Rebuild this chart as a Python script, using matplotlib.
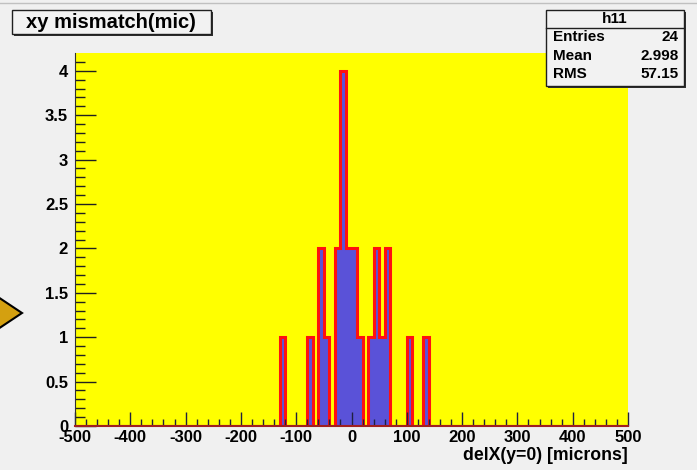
import numpy as np
import matplotlib
matplotlib.use("Agg")
import matplotlib.pyplot as plt
from matplotlib.patches import Rectangle, Polygon
from matplotlib.lines import Line2D

# ---- data ----
x_min, x_max, n_bins = -500, 500, 100
bin_centers = [-125, -75, -55, -45, -25, -15, -5, 5, 15, 35, 45, 55, 65, 105, 135]
bin_counts = [1, 1, 2, 1, 2, 4, 2, 2, 1, 1, 2, 1, 2, 1, 1]
title = "xy mismatch(mic)"
xlabel = "delX(y=0) [microns]"
stats_name = "h11"
stats_labels = ["Entries", "Mean", "RMS"]
stats_values = ["24", "2.998", "57.15"]
x_ticks = [-500, -400, -300, -200, -100, 0, 100, 200, 300, 400, 500]
y_ticks = [0, 0.5, 1, 1.5, 2, 2.5, 3, 3.5, 4]
y_tick_labels = ["0", "0.5", "1", "1.5", "2", "2.5", "3", "3.5", "4"]

edges = np.linspace(x_min, x_max, n_bins + 1)
counts = np.zeros(n_bins)
for c, n in zip(bin_centers, bin_counts):
    counts[np.searchsorted(edges, c) - 1] = n

W, H = 697, 470
plt.rcParams['font.family'] = ['Liberation Sans', 'DejaVu Sans']
fig = plt.figure(figsize=(W / 100, H / 100), dpi=100)
fig.patch.set_facecolor('#f0f0f0')

def fx(px):
    return px / W

def fy(py):
    return 1 - py / H

left, right, top, bottom = 75, 628, 53, 426
ax = fig.add_axes([fx(left), fy(bottom), fx(right - left), (bottom - top) / H])
ax.set_facecolor('#ffff00')
ax.stairs(counts, edges, fill=True, color='#5a52d8')
ax.stairs(counts, edges, color='#ff1010', linewidth=2.2, baseline=0)
ax.set_xlim(x_min, x_max)
ax.set_ylim(0, max(counts) * 1.05)

ax.set_xticks(x_ticks)
ax.set_xticklabels([str(t) for t in x_ticks], fontweight='bold', fontsize=12)
ax.set_xticks(np.arange(x_min, x_max + 1, 20), minor=True)
ax.set_yticks(y_ticks)
ax.set_yticklabels(y_tick_labels, fontweight='bold', fontsize=12)
ax.set_yticks(np.arange(0, 4.2, 0.1), minor=True)
ax.tick_params(axis='x', which='major', direction='in', length=10, width=1, color='#202040', pad=3, top=False)
ax.tick_params(axis='x', which='minor', direction='in', length=5, width=1, color='#202040', top=False)
ax.tick_params(axis='y', which='major', direction='in', length=15, width=1, color='#202020', pad=5, right=False)
ax.tick_params(axis='y', which='minor', direction='in', length=7, width=1, color='#202020', right=False)
for s in ['top', 'right']:
    ax.spines[s].set_visible(False)
ax.spines['left'].set_color('#303030')
ax.spines['bottom'].set_color('#a02020')
ax.spines['bottom'].set_linewidth(1.5)

fig.text(fx(628), fy(456), xlabel, ha='right', va='center', fontweight='bold', fontsize=12.7)

# top strip line
fig.add_artist(Line2D([0, 1], [fy(3), fy(3)], color='#c0c0c0', lw=1, transform=fig.transFigure))

# title box
def pave(x0, y0, x1, y1):
    fig.add_artist(Rectangle((fx(x0 + 2), fy(y1 + 2)), fx(x1 - x0), (y1 - y0) / H,
                             transform=fig.transFigure, facecolor='#303030', edgecolor='none'))
    fig.add_artist(Rectangle((fx(x0), fy(y1)), fx(x1 - x0), (y1 - y0) / H,
                             transform=fig.transFigure, facecolor='#f2f2f2', edgecolor='#202020', lw=1))

pave(12, 10, 211, 34)
fig.text(fx(111), fy(22), title, ha='center', va='center', fontweight='bold', fontsize=14.5)

# stats box
pave(546, 10, 684, 86)
fig.add_artist(Line2D([fx(546), fx(684)], [fy(28), fy(28)], color='#202020', lw=1, transform=fig.transFigure))
fig.text(fx(615), fy(19), stats_name, ha='center', va='center', fontweight='bold', fontsize=11)
for i, (lab, val) in enumerate(zip(stats_labels, stats_values)):
    yy = 37 + i * 18.5
    fig.text(fx(553), fy(yy), lab, ha='left', va='center', fontweight='bold', fontsize=11)
    fig.text(fx(679), fy(yy), val, ha='right', va='center', fontweight='bold', fontsize=11)

# arrow marker on the left
tri = Polygon([(fx(-8), fy(293)), (fx(22), fy(313)), (fx(-8), fy(333))], closed=True,
              transform=fig.transFigure, facecolor='#d4a010', edgecolor='black', lw=1.5)
fig.add_artist(tri)

fig.savefig('out.png', dpi=100, facecolor=fig.get_facecolor())
